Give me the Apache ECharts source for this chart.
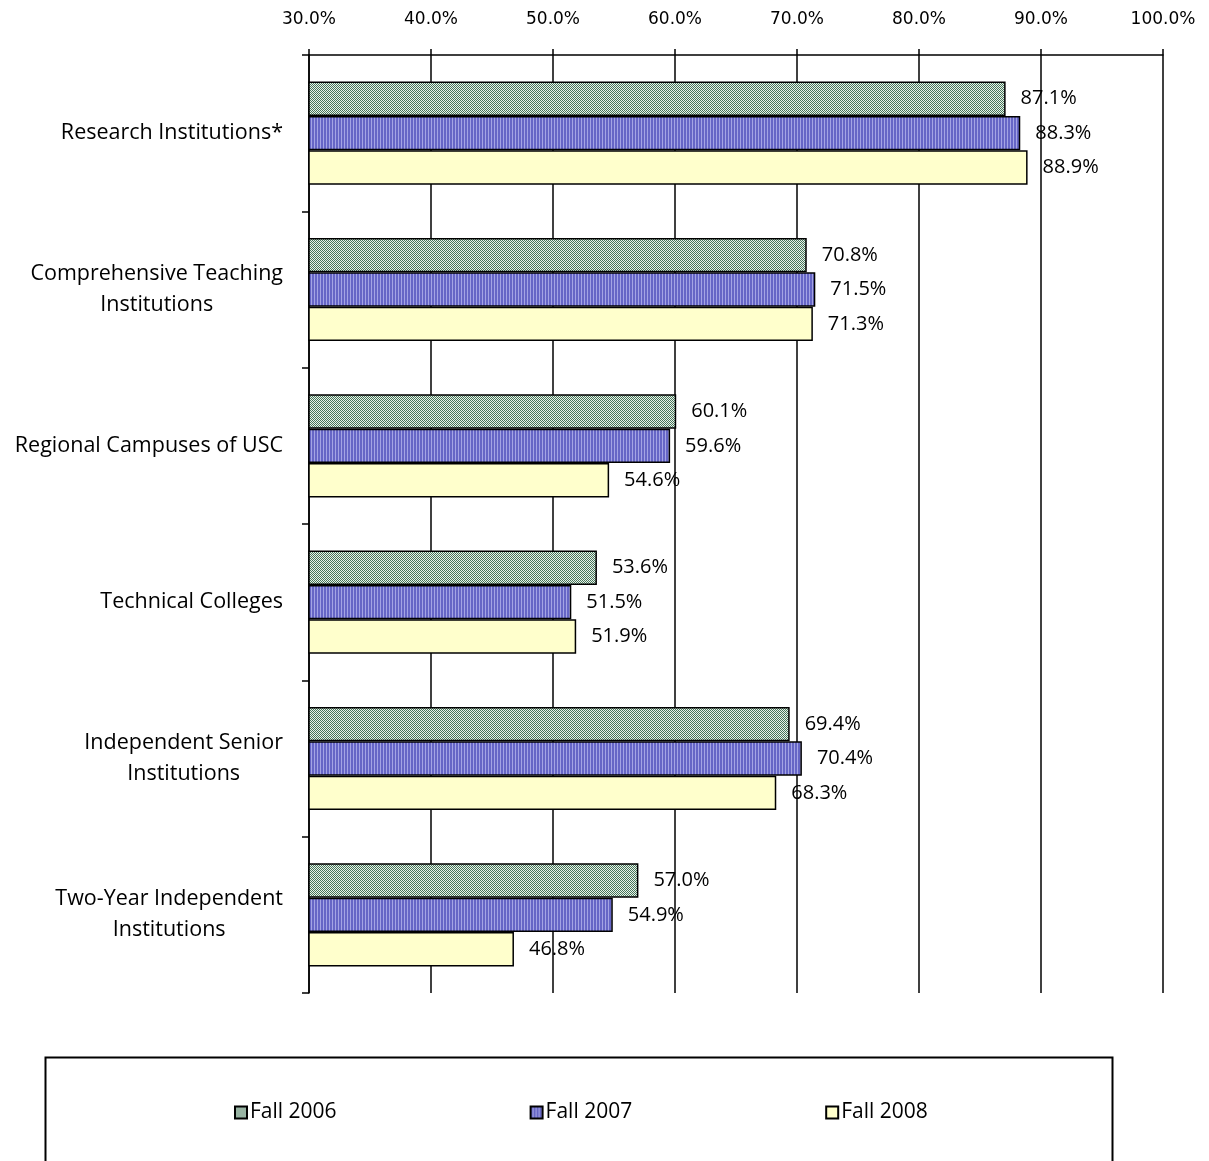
<!DOCTYPE html>
<html>
<head>
<meta charset="utf-8">
<script src="https://cdn.jsdelivr.net/npm/echarts@6/dist/echarts.min.js"></script>
<style>
  html, body { margin: 0; padding: 0; background: #fff; }
  #root { width: 1209px; height: 1161px; }
</style>
</head>
<body>
<div id="root"></div>
<script>
// categories, top to bottom
var categories = [
  'Research Institutions*',
  'Comprehensive Teaching\nInstitutions',
  'Regional Campuses of USC',
  'Technical Colleges',
  'Independent Senior\nInstitutions',
  'Two-Year Independent\nInstitutions'
];
var seriesNames = ['Fall 2006', 'Fall 2007', 'Fall 2008'];
// percent values
var fall2006 = [87.1, 70.8, 60.1, 53.6, 69.4, 57.0];
var fall2007 = [88.3, 71.5, 59.6, 51.5, 70.4, 54.9];
var fall2008 = [88.9, 71.3, 54.6, 51.9, 68.3, 46.8];
var axisMin = 30, axisMax = 100, axisStep = 10;

// little canvas tiles for the hatched fills
function makeTile(w, h, bg, fg, pixels) {
  var c = document.createElement('canvas');
  c.width = w;
  c.height = h;
  var ctx = c.getContext('2d');
  ctx.fillStyle = bg;
  ctx.fillRect(0, 0, w, h);
  ctx.fillStyle = fg;
  pixels.forEach(function(p) {
    ctx.fillRect(p[0], p[1], 1, 1);
  });
  return c;
}
// fine checker, green
var tile2006 = makeTile(2, 2, '#eaf2ea', '#45755a', [[0, 0], [1, 1]]);
// vertical stripes, blue
var tile2007 = makeTile(3, 1, '#a4a4e4', '#6666c6', [[0, 0], [1, 0]]);

var fills = [
  {image: tile2006, repeat: 'repeat'},
  {image: tile2007, repeat: 'repeat'},
  '#ffffcc'
];
var values = [fall2006, fall2007, fall2008];

var labelFont = '"Open Sans", "Noto Sans", sans-serif';

var option = {
  animation: false,
  backgroundColor: '#fff',
  grid: {
    left: 309,
    right: 46,
    top: 55,
    bottom: 168
  },
  xAxis: {
    type: 'value',
    position: 'top',
    min: axisMin,
    max: axisMax,
    interval: axisStep,
    axisLine: {show: true, lineStyle: {color: '#000', width: 1.5}},
    axisTick: {show: true, inside: false, length: 6, lineStyle: {color: '#000', width: 1.5}},
    splitLine: {show: true, lineStyle: {color: '#000', width: 1.5}},
    axisLabel: {
      color: '#000',
      fontFamily: '"DejaVu Sans", sans-serif',
      fontSize: 17,
      margin: 27,
      formatter: function(v) {
        return v.toFixed(1) + '%';
      }
    }
  },
  yAxis: {
    type: 'category',
    inverse: true,
    data: categories,
    axisLine: {show: true, lineStyle: {color: '#000', width: 1.5}},
    axisTick: {show: true, inside: false, length: 7, lineStyle: {color: '#000', width: 1.5}},
    splitLine: {show: false},
    axisLabel: {
      color: '#000',
      margin: 26,
      formatter: function(v) {
        return v.split('\n').map(function(line) {
          return '{c|' + line + '}';
        }).join('\n');
      },
      rich: {
        c: {
          align: 'center',
          fontFamily: labelFont,
          fontSize: 21.5,
          lineHeight: 31,
          color: '#000'
        }
      }
    }
  },
  legend: {
    data: seriesNames,
    left: 229,
    top: 1097,
    itemWidth: 12,
    itemHeight: 12,
    itemGap: 193,
    icon: 'rect',
    textStyle: {
      color: '#000',
      fontFamily: labelFont,
      fontSize: 21,
      padding: [0, 0, 0, -2]
    }
  },
  graphic: [
    {
      type: 'rect',
      left: 43,
      top: 1055,
      shape: {width: 1067, height: 200},
      style: {fill: 'none', stroke: '#000', lineWidth: 2}
    }
  ],
  series: seriesNames.map(function(name, i) {
    return {
      name: name,
      type: 'bar',
      barGap: '0%',
      barCategoryGap: '34%',
      data: values[i],
      itemStyle: {
        color: fills[i],
        borderColor: '#000',
        borderWidth: 1.5
      },
      label: {
        show: true,
        position: 'right',
        distance: 15,
        color: '#000',
        fontFamily: labelFont,
        fontSize: 20,
        formatter: function(p) {
          return p.value.toFixed(1) + '%';
        }
      }
    };
  })
};

var myChart = echarts.init(document.getElementById('root'));
myChart.setOption(option);
</script>
</body>
</html>
